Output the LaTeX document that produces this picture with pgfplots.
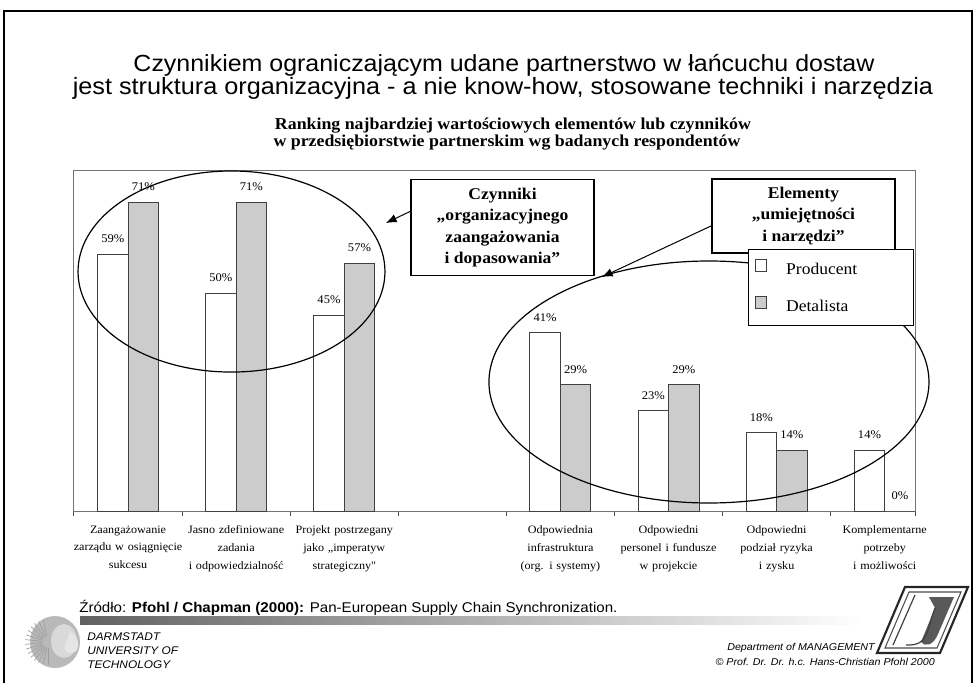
\documentclass[border=0pt]{standalone}
\usepackage{fontspec}
\setmainfont{Liberation Serif}[FakeStretch=1.07]
\newfontfamily\arialf{Liberation Sans}[FakeStretch=1.07]
\usepackage{pgfplots}
\pgfplotsset{compat=1.18}
\usetikzlibrary{arrows.meta}
\definecolor{bargray}{RGB}{204,204,204}
\begin{document}
\begin{tikzpicture}[x=0.75pt,y=-0.75pt]
\useasboundingbox (0,0) rectangle (976,683);
\draw[line width=1.5pt] (4,683) -- (4,11) -- (972,11) -- (972,683);
\begin{axis}[
  at={(55.5pt,-383.25pt)}, anchor=south west,
  scale only axis, width=630.75pt, height=255.75pt,
  clip=false,
  ybar=0pt, bar width=22.875pt,
  xmin=-0.5, xmax=7.28, ymin=0, ymax=78.4,
  ytick=\empty,
  xtick={0,1,2,3,4,5,6,7},
  xticklabels={{Zaangażowanie\\zarządu w osiągnięcie\\sukcesu},
               {Jasno zdefiniowane\\zadania\\i odpowiedzialność},
               {Projekt postrzegany\\jako „imperatyw\\strategiczny\textquotedbl},
               {},
               {Odpowiednia\\infrastruktura\\(org. i systemy)},
               {Odpowiedni\\personel i fundusze\\w projekcie},
               {Odpowiedni\\podział ryzyka\\i zysku},
               {Komplementarne\\potrzeby\\i możliwości}},
  xtick pos=bottom,
  major tick length=0pt,
  major x tick style={draw=none},
  minor xtick={-0.5,0.5,1.5,2.5,3.5,4.5,5.5,6.5,7.28},
  minor tick length=4pt,
  tick align=outside,
  minor x tick style={black!70, line width=0.75pt},
  axis line style={draw=black!55, line width=0.75pt},
  x tick label style={font=\fontsize{8.5}{13.3}\selectfont, align=center, text width=82pt, yshift=-7.5pt},
  /pgf/number format/assume math mode=true,
  nodes near coords={\pgfmathprintnumber{\pgfplotspointmeta}\%},
  every node near coord/.append style={font=\fontsize{8.8}{10}\selectfont, inner sep=0pt, yshift=8.25pt, black},
  legend style={at={(0.8014,0.768)}, anchor=north west, draw=black, line width=0.75pt, fill=white,
    inner xsep=5.25pt, inner ysep=6pt, row sep=10.75pt, font=\fontsize{12.3}{14}\selectfont,
    nodes={inner sep=0pt, text height=13pt, text depth=4pt},
    /tikz/every odd column/.append style={column sep=14pt},
    /tikz/every even column/.append style={text width=90pt}},
  legend cell align=left,
  every axis plot post/.append style={legend image code/.code={\draw[##1, line width=0.75pt] (0pt,-1.9pt) rectangle (8.25pt,7.1pt);}},
]
\addplot[draw=black!75, line width=0.75pt, fill=white] coordinates {(0,59) (1,50) (2,45) (4,41) (5,23) (6,18) (7,14)};
\addplot[draw=black!75, line width=0.75pt, fill=bargray] coordinates {(0,71) (1,71) (2,57) (4,29) (5,29) (6,14) (7,0)};
\legend{Producent, Detalista}
\draw[black, line width=0.9pt] (axis cs:0.957,55.06) ellipse [x radius=115.1pt, y radius=75.4pt];
\draw[black, line width=0.9pt] (axis cs:5.374,29.66) ellipse [x radius=165pt, y radius=90.75pt];
\draw[line width=0.75pt, -{Latex[length=8pt,width=6.5pt]}] (axis cs:2.6175,68.97) -- (axis cs:2.386,66.21);
\draw[line width=0.75pt, -{Latex[length=8pt,width=6.5pt]}] (axis cs:5.393,65.53) -- (axis cs:4.384,53.80);
\node[draw=black, line width=1pt, fill=white, minimum width=137.25pt, minimum height=72pt, inner sep=0pt, align=center, font=\bfseries\fontsize{12.3}{16.1}\selectfont] at (axis cs:3.464,65.18) {Czynniki\\„organizacyjnego\\zaangażowania\\i dopasowania”};
\node[draw=black, line width=1pt, fill=white, minimum width=137.25pt, minimum height=55.5pt, inner sep=0pt, align=center, font=\bfseries\fontsize{12.3}{16.1}\selectfont] at (axis cs:6.248,67.82) {Elementy\\„umiejętności\\i narzędzi”};
\end{axis}
% titles
\node[font=\arialf\fontsize{17.5}{18}\selectfont, anchor=base] at (504,71) {Czynnikiem ograniczającym udane partnerstwo w łańcuchu dostaw};
\node[font=\arialf\fontsize{17.7}{18}\selectfont, anchor=base] at (503,94) {jest struktura organizacyjna - a nie know-how, stosowane techniki i narzędzia};
\node[font=\bfseries\fontsize{12.5}{14}\selectfont, anchor=base] at (513,129) {Ranking najbardziej wartościowych elementów lub czynników};
\node[font=\bfseries\fontsize{12.5}{14}\selectfont, anchor=base] at (507,146) {w przedsiębiorstwie partnerskim wg badanych respondentów};
% footer
\node[font=\arialf\fontsize{10.6}{12}\selectfont, anchor=base west, inner sep=0pt] at (79,612) {Źródło: \textbf{Pfohl / Chapman (2000):} Pan-European Supply Chain Synchronization.};
\shade[left color=black!62, right color=white] (80,616) rectangle (865,624);
\node[font=\arialf\itshape\fontsize{8.3}{10}\selectfont, anchor=base west, inner sep=0pt] at (87,640) {DARMSTADT};
\node[font=\arialf\itshape\fontsize{8.3}{10}\selectfont, anchor=base west, inner sep=0pt] at (87,654) {UNIVERSITY OF};
\node[font=\arialf\itshape\fontsize{8.3}{10}\selectfont, anchor=base west, inner sep=0pt] at (87,668) {TECHNOLOGY};
\node[font=\arialf\itshape\fontsize{7.5}{10}\selectfont, anchor=base east, inner sep=0pt] at (875,650) {Department of MANAGEMENT};
\node[font=\arialf\itshape\fontsize{7.5}{10}\selectfont, anchor=base east, inner sep=0pt] at (935,665) {© Prof. Dr. Dr. h.c. Hans-Christian Pfohl 2000};
% left logo (approximation of the Athena head)
\fill[gray!55] (55,642) ellipse [x radius=25, y radius=26];
\fill[gray!30] (64,641) ellipse [x radius=13, y radius=17];
\foreach \a in {0,12,...,168}{
  \draw[gray!75, line width=0.5pt] (48,642) ++(90+\a:6) -- ++(90+\a:17);
}
\fill[gray!20] (70,632) .. controls (78,636) and (80,644) .. (77,650) .. controls (72,655) and (66,654) .. (64,648) -- cycle;
% right logo (approximation)
\draw[line width=1.6pt, black!85] (877,653) -- (905,587) -- (968,587) -- (940,653) -- cycle;
\draw[line width=0.8pt, black!70] (885,648) -- (909,592) -- (961,592) -- (937,648) -- cycle;
\fill[black!65] (929,597) -- (954,597) -- (938,634) .. controls (933,646) and (925,647) .. (921,642) -- (935,608) -- cycle;
\draw[line width=0.9pt, black!75] (893,645) -- (915,595);
\draw[line width=0.9pt, black!75] (906,645) .. controls (930,646) and (926,630) .. (935,608);
\end{tikzpicture}
\end{document}
